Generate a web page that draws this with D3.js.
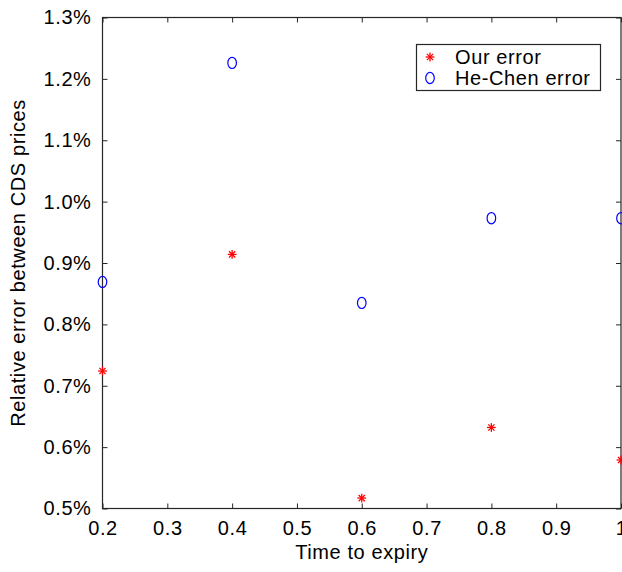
<!DOCTYPE html>
<html>
<head>
<meta charset="utf-8">
<script src="https://cdn.jsdelivr.net/npm/d3@7"></script>
<style>
  body { margin: 0; background: #fff; }
  svg { display: block; font-family: "Liberation Sans", Arial, Helvetica, sans-serif; }
  text { letter-spacing: 0.6px; }
</style>
</head>
<body>
<div class="chart"></div>
<script>
// chart values
let expiry = [0.2, 0.4, 0.6, 0.8, 1.0];
let ourError = [0.724, 0.914, 0.517, 0.632, 0.579];
let heChenError = [0.869, 1.226, 0.835, 0.973, 0.973];
let xTicks = [0.2, 0.3, 0.4, 0.5, 0.6, 0.7, 0.8, 0.9, 1];
let yTicks = [0.5, 0.6, 0.7, 0.8, 0.9, 1.0, 1.1, 1.2, 1.3];
let seriesNames = ["Our error", "He-Chen error"];

let width = 622, height = 572;
let margin = {left: 102.5, right: 0.5, top: 17.5, bottom: 63.5};
let axisColor = "#262626";
let fontSize = 20;

let svg = d3.select(".chart").append("svg")
    .attr("width", width)
    .attr("height", height);

let x = d3.scaleLinear().domain([0.2, 1]).range([margin.left, width - margin.right - 0.5]);
let y = d3.scaleLinear().domain([0.5, 1.3]).range([height - margin.bottom, margin.top]);

let fmtY = d => d.toFixed(1) + "%";
let fmtX = d => d === 1 ? "1" : d.toFixed(1);

// axes, ticks pointing inward
function styleAxis(g) {
    g.selectAll(".domain").remove();
    g.selectAll(".tick line").attr("stroke", axisColor);
    g.selectAll(".tick text").attr("fill", "#000").attr("font-size", fontSize);
}

svg.append("g")
    .attr("transform", `translate(0,${y(0.5)})`)
    .call(d3.axisBottom(x).tickValues(xTicks).tickFormat(fmtX).tickSizeInner(-5).tickSizeOuter(0).tickPadding(12.5))
    .call(styleAxis);

svg.append("g")
    .attr("transform", `translate(0,${y(1.3)})`)
    .call(d3.axisTop(x).tickValues(xTicks).tickFormat("").tickSizeInner(-5).tickSizeOuter(0))
    .call(styleAxis);

svg.append("g")
    .attr("transform", `translate(${x(0.2)},0)`)
    .call(d3.axisLeft(y).tickValues(yTicks).tickFormat(fmtY).tickSizeInner(-5).tickSizeOuter(0).tickPadding(11))
    .call(styleAxis);

svg.append("g")
    .attr("transform", `translate(${x(1)},0)`)
    .call(d3.axisRight(y).tickValues(yTicks).tickFormat("").tickSizeInner(-5).tickSizeOuter(0))
    .call(styleAxis);

// box
svg.append("rect")
    .attr("x", x(0.2)).attr("y", y(1.3))
    .attr("width", x(1) - x(0.2)).attr("height", y(0.5) - y(1.3))
    .attr("fill", "none").attr("stroke", axisColor).attr("stroke-width", 1.2);

// markers
function star(g, cx, cy, r) {
    for (let a = 0; a < 4; a++) {
        let ang = a * Math.PI / 4;
        g.append("line")
            .attr("x1", cx - r * Math.cos(ang)).attr("y1", cy - r * Math.sin(ang))
            .attr("x2", cx + r * Math.cos(ang)).attr("y2", cy + r * Math.sin(ang))
            .attr("stroke", "#ff0000").attr("stroke-width", 1.3);
    }
}

function ring(g, cx, cy) {
    g.append("ellipse")
        .attr("cx", cx).attr("cy", cy)
        .attr("rx", 4.3).attr("ry", 5.6)
        .attr("fill", "none").attr("stroke", "#0000ff").attr("stroke-width", 1.2);
}

let pts = svg.append("g");
expiry.forEach((t, i) => {
    star(pts, x(t), y(ourError[i]), 4.4);
    ring(pts, x(t), y(heChenError[i]));
});

// axis labels
svg.append("text")
    .attr("x", (x(0.2) + x(1)) / 2)
    .attr("y", 559)
    .attr("text-anchor", "middle")
    .attr("font-size", fontSize)
    .text("Time to expiry");

svg.append("text")
    .attr("transform", `translate(25,${(y(0.5) + y(1.3)) / 2}) rotate(-90)`)
    .attr("text-anchor", "middle")
    .attr("font-size", fontSize)
    .text("Relative error between CDS prices");

// legend
let legend = svg.append("g");
legend.append("rect")
    .attr("x", 416.5).attr("y", 44.5)
    .attr("width", 184).attr("height", 46)
    .attr("fill", "#fff").attr("stroke", axisColor).attr("stroke-width", 1.2);
star(legend, 430, 57, 4.4);
ring(legend, 430, 78);
legend.selectAll("text.lab")
    .data(seriesNames)
    .enter().append("text")
    .attr("class", "lab")
    .attr("x", 455)
    .attr("y", (d, i) => 64 + i * 21)
    .attr("font-size", fontSize)
    .text(d => d);
</script>
</body>
</html>
